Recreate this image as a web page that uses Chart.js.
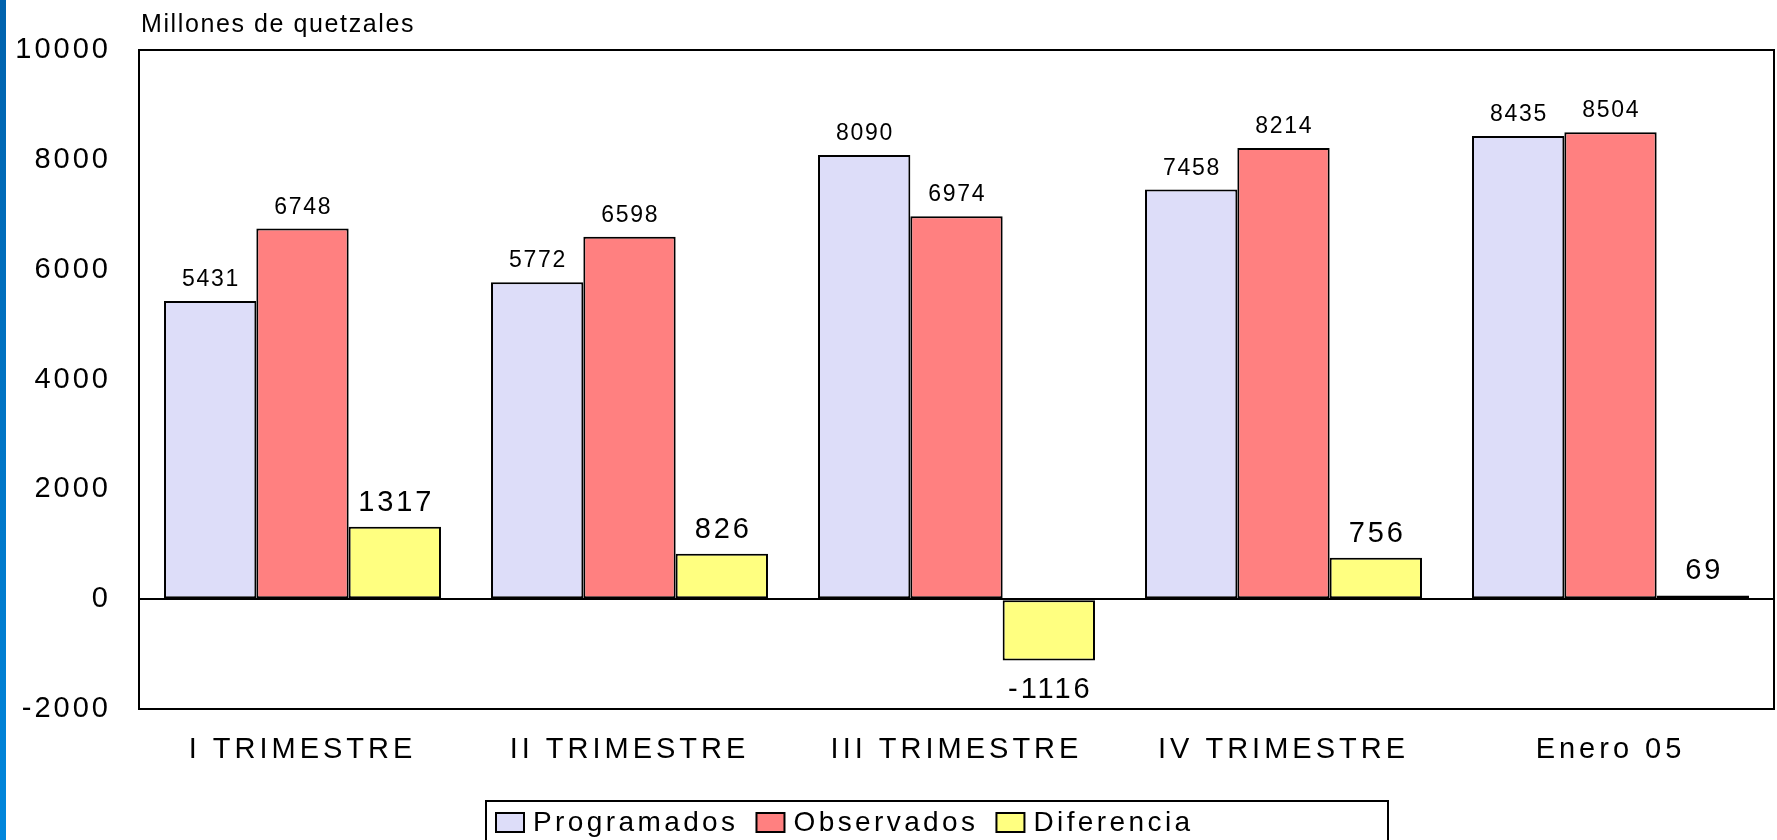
<!DOCTYPE html>
<html><head><meta charset="utf-8">
<script src="https://cdn.jsdelivr.net/npm/chart.js@4"></script>
<style>
html,body{margin:0;padding:0;background:#fff;overflow:hidden}
#wrap{position:relative;width:1777px;height:840px;background:#fff}
#strip{position:absolute;left:0;top:0;width:6px;height:840px;background:linear-gradient(#0062ad,#0086dc);z-index:2}
canvas{display:block}
</style></head><body>
<div id="wrap"><div id="strip"></div><canvas id="c" width="1777" height="840"></canvas></div>
<script>
const categories = ['I TRIMESTRE', 'II TRIMESTRE', 'III TRIMESTRE', 'IV TRIMESTRE', 'Enero 05'];
const programados = [5431, 5772, 8090, 7458, 8435];
const observados = [6748, 6598, 6974, 8214, 8504];
const diferencia = [1317, 826, -1116, 756, 69];
const seriesNames = ['Programados', 'Observados', 'Diferencia'];
const yTicks = [-2000, 0, 2000, 4000, 6000, 8000, 10000];
const unitLabel = 'Millones de quetzales';

const FONT = "'Liberation Sans', Arial, Helvetica, sans-serif";
const colors = ['#DDDDF9', '#FF8080', '#FFFF80'];

const labelStyles = [
  {size: 23, spacing: 1.7, gap: 15, gapNeg: 36},
  {size: 23, spacing: 1.7, gap: 15, gapNeg: 36},
  {size: 29, spacing: 2.9, gap: 16, gapNeg: 38}
];

const spacingPlugin = {
  id: 'spacing',
  beforeDraw(chart) { chart.ctx.letterSpacing = '3px'; }
};

const framePlugin = {
  id: 'frame',
  afterDatasetsDraw(chart) {
    const ctx = chart.ctx, a = chart.chartArea;
    ctx.save();
    ctx.letterSpacing = '0px';
    ctx.strokeStyle = '#000';
    ctx.lineWidth = 2;
    ctx.strokeRect(a.left, a.top, a.right - a.left, a.bottom - a.top);
    ctx.restore();
  }
};

const valueLabels = {
  id: 'valueLabels',
  afterDatasetsDraw(chart) {
    const ctx = chart.ctx;
    chart.data.datasets.forEach((ds, i) => {
      const meta = chart.getDatasetMeta(i);
      const st = labelStyles[i];
      meta.data.forEach((bar, j) => {
        const v = ds.data[j];
        ctx.save();
        ctx.font = st.size + 'px ' + FONT;
        ctx.letterSpacing = st.spacing + 'px';
        ctx.fillStyle = '#000';
        ctx.textAlign = 'center';
        ctx.textBaseline = 'alphabetic';
        const x = bar.x + st.spacing / 2;
        const y = v >= 0 ? bar.y - st.gap : bar.y + st.gapNeg;
        ctx.fillText(String(v), x, y);
        ctx.restore();
      });
    });
    // spacing for category labels drawn after datasets
    ctx.letterSpacing = '4px';
  }
};

const extras = {
  id: 'extras',
  afterDraw(chart) {
    const ctx = chart.ctx;
    ctx.save();
    // unit label
    ctx.font = '25px ' + FONT;
    ctx.letterSpacing = '1.6px';
    ctx.fillStyle = '#000';
    ctx.textAlign = 'left';
    ctx.textBaseline = 'alphabetic';
    ctx.fillText(unitLabel, 141, 32);
    // legend
    const boxL = 486, boxT = 801, boxR = 1388;
    ctx.lineWidth = 2;
    ctx.strokeStyle = '#000';
    ctx.strokeRect(boxL, boxT, boxR - boxL, 60);
    ctx.font = '28px ' + FONT;
    ctx.letterSpacing = '3.4px';
    let x = 496;
    chart.data.datasets.forEach((ds) => {
      ctx.fillStyle = ds.backgroundColor;
      ctx.fillRect(x, 813, 28, 19);
      ctx.strokeStyle = '#000';
      ctx.lineWidth = 2;
      ctx.strokeRect(x, 813, 28, 19);
      ctx.fillStyle = '#000';
      ctx.fillText(ds.label, x + 37, 831);
      x += 37 + ctx.measureText(ds.label).width + 18;
    });
    ctx.restore();
  }
};

const seriesData = [programados, observados, diferencia];

new Chart(document.getElementById('c'), {
  type: 'bar',
  data: {
    labels: categories,
    datasets: seriesNames.map((n, i) => ({
      label: n,
      data: seriesData[i],
      backgroundColor: colors[i],
      borderColor: '#000',
      borderWidth: 2,
      borderSkipped: false,
      categoryPercentage: 0.847,
      barPercentage: 1.0
    }))
  },
  options: {
    responsive: false,
    animation: false,
    layout: {padding: {top: 50, right: 3, left: 0, bottom: 0}},
    plugins: {legend: {display: false}, tooltip: {enabled: false}, title: {display: false}},
    scales: {
      x: {
        grid: {display: false},
        border: {display: false},
        ticks: {font: {family: FONT, size: 29}, color: '#000', padding: 16, maxRotation: 0, autoSkip: false, z: 1},
        afterFit(s) { s.height = 131; }
      },
      y: {
        min: yTicks[0],
        max: yTicks[yTicks.length - 1],
        afterBuildTicks(s) { s.ticks = yTicks.map(v => ({value: v})); },
        grid: {
          drawTicks: false,
          color: c => (c.tick && c.tick.value === 0) ? '#000' : 'rgba(0,0,0,0)',
          lineWidth: 2
        },
        border: {display: false},
        ticks: {font: {family: FONT, size: 29}, color: '#000', padding: 28, callback: v => String(v)},
        afterFit(s) { s.width = 139; }
      }
    }
  },
  plugins: [spacingPlugin, framePlugin, valueLabels, extras]
});
</script>
</body></html>
